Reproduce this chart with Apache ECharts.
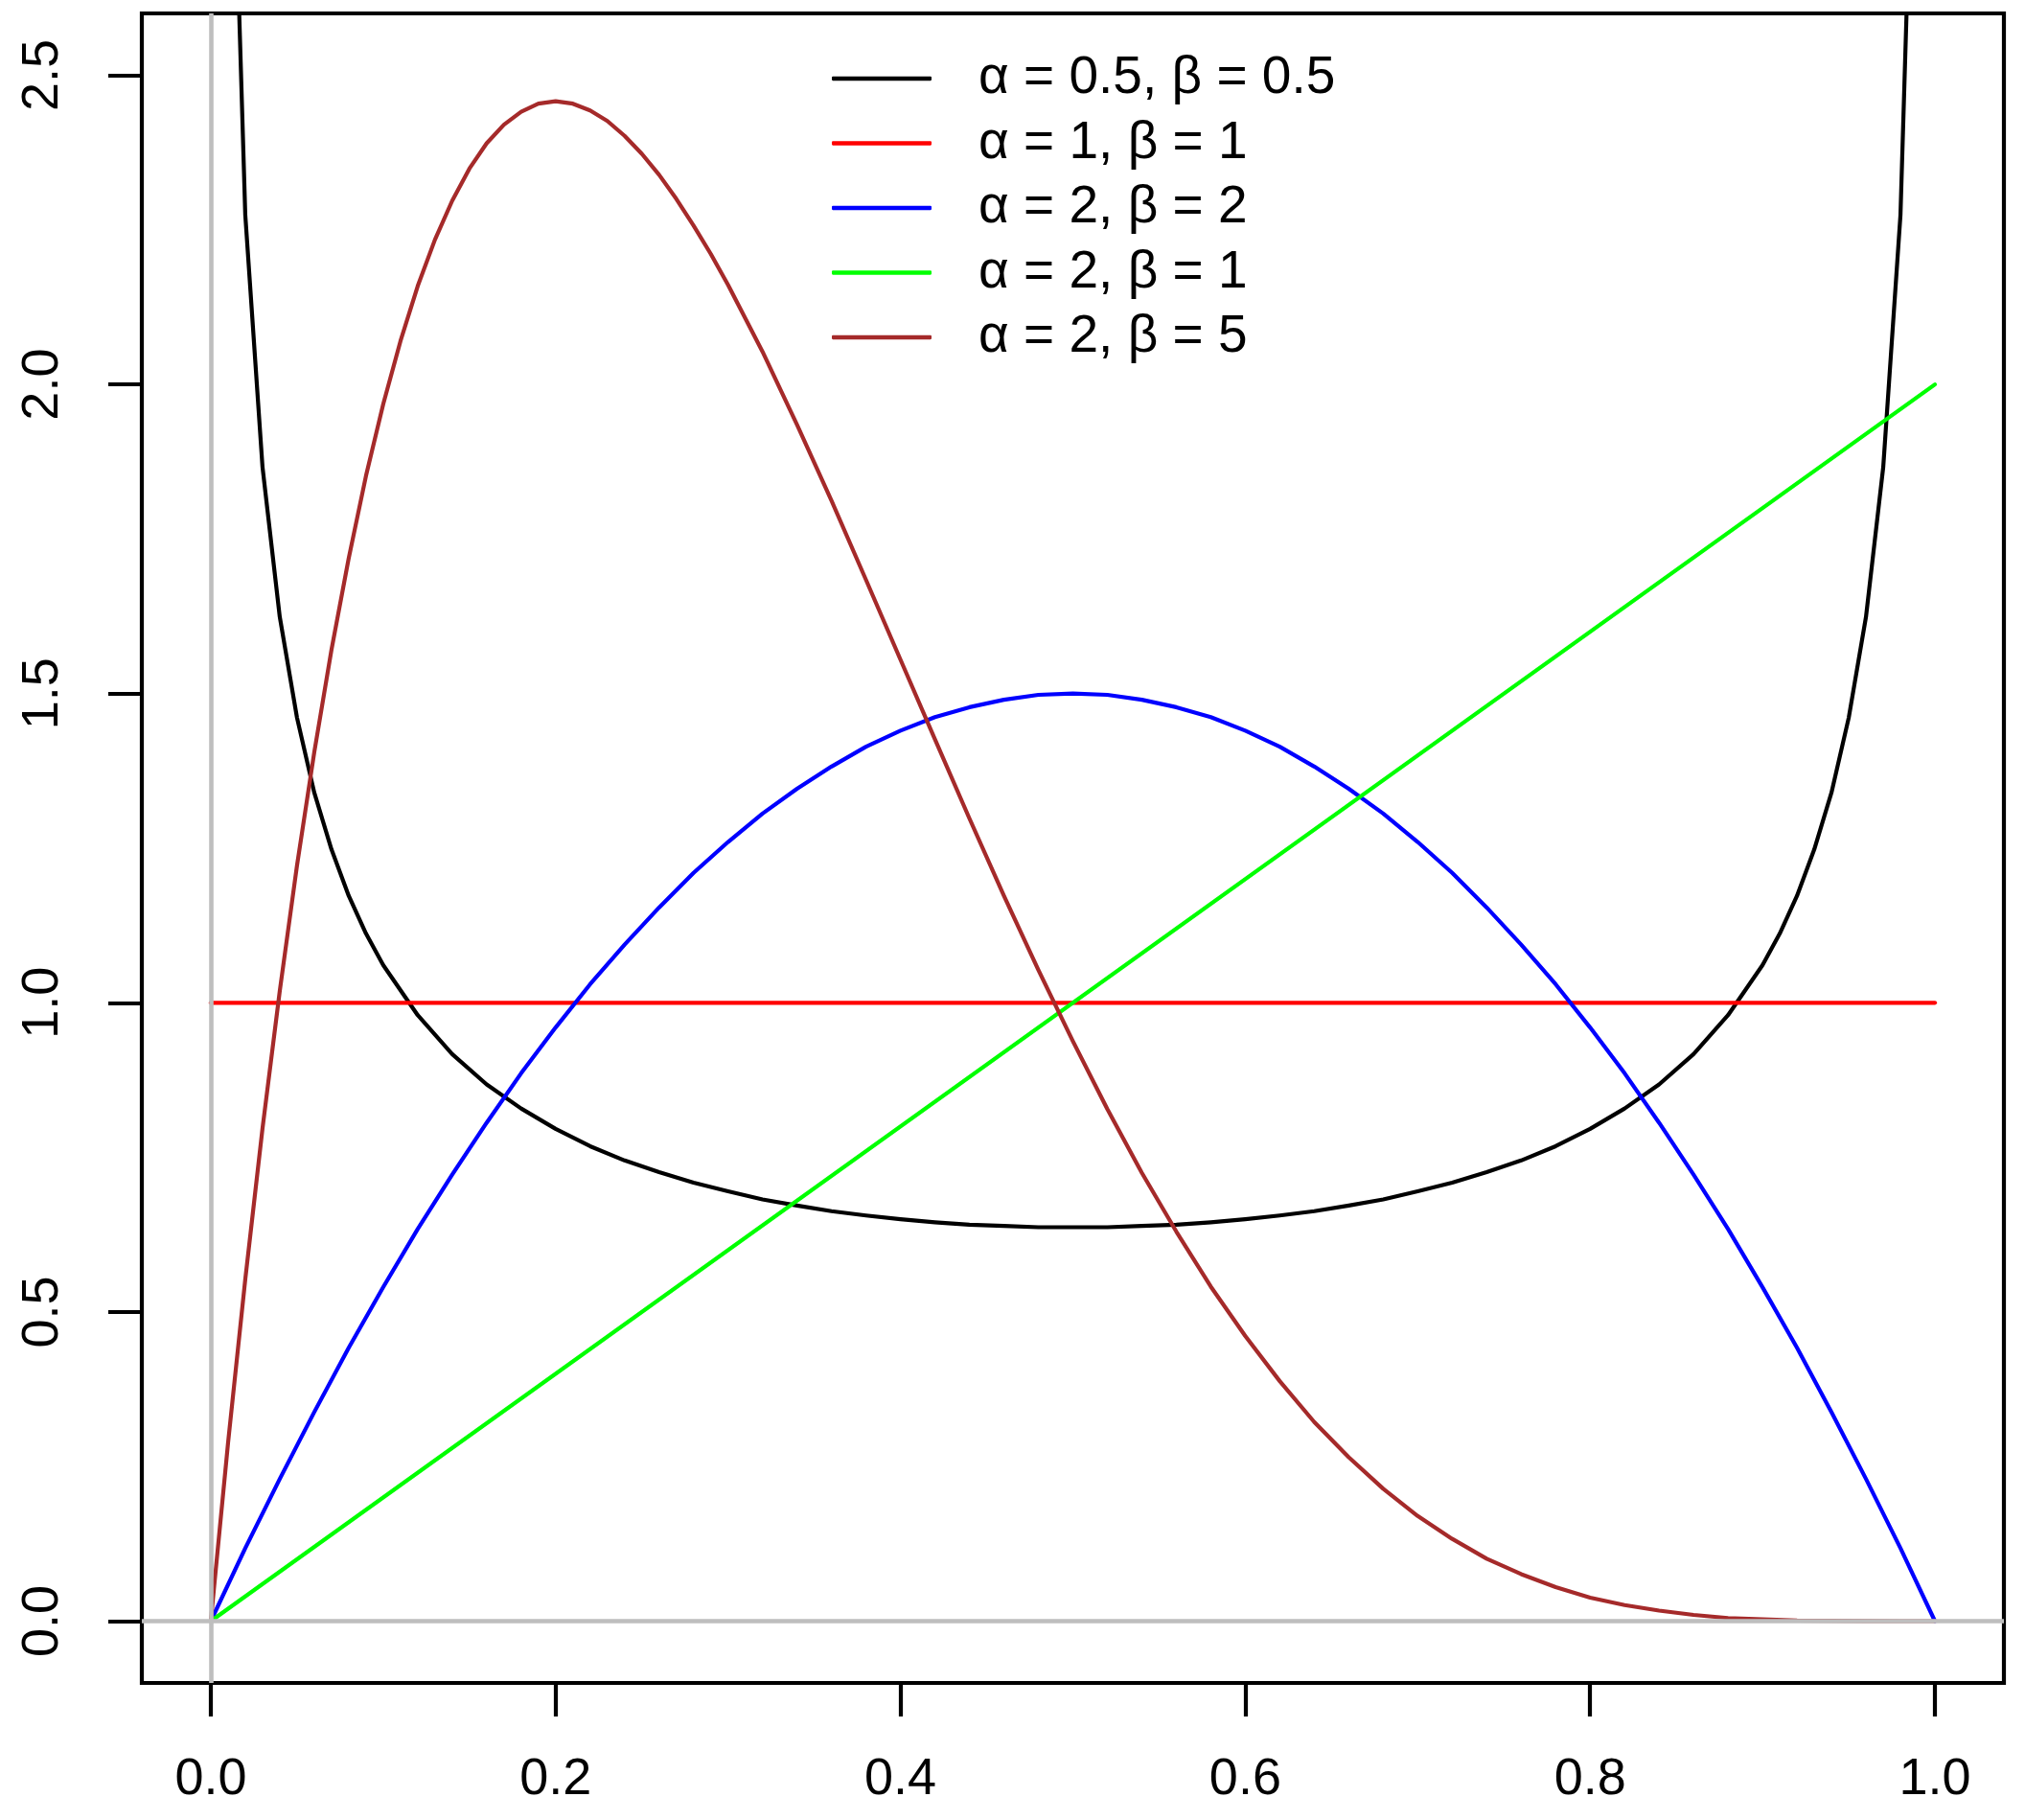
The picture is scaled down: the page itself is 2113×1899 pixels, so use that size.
<!DOCTYPE html>
<html>
<head>
<meta charset="utf-8">
<script src="https://cdn.jsdelivr.net/npm/echarts@6/dist/echarts.min.js"></script>
<style>
html,body{margin:0;padding:0;background:#fff;}
#chart{width:2113px;height:1899px;}
</style>
</head>
<body>
<div id="chart"></div>
<script>
// Tick labels
const xTicks = [0, 0.2, 0.4, 0.6, 0.8, 1.0];
const yTicks = [0, 0.5, 1.0, 1.5, 2.0, 2.5];

// Series names
const names = ['α = 0.5, β = 0.5', 'α = 1, β = 1', 'α = 2, β = 2', 'α = 2, β = 1', 'α = 2, β = 5'];
const colors = ['#000000', '#FF0000', '#0000FF', '#00FF00', '#A52A2A'];

// α = 0.5, β = 0.5
const blackX = [0.01,0.02,0.03,0.04,0.05,0.06,0.07,0.08,0.09,0.10,0.12,0.14,0.16,0.18,0.20,0.22,0.24,0.26,0.28,0.30,0.32,0.34,0.36,0.38,0.40,0.42,0.44,0.46,0.48,0.50,
  0.52,0.54,0.56,0.58,0.60,0.62,0.64,0.66,0.68,0.70,0.72,0.74,0.76,0.78,0.80,0.82,0.84,0.86,0.88,0.90,0.91,0.92,0.93,0.94,0.95,0.96,0.97,0.98,0.99];
const blackY = [3.199,2.274,1.866,1.624,1.461,1.340,1.248,1.173,1.112,1.061,0.980,0.917,0.868,0.829,0.796,0.768,0.745,0.726,0.709,0.695,0.682,0.672,0.663,0.656,0.650,0.645,0.641,0.639,0.637,0.637,
  0.637,0.639,0.641,0.645,0.650,0.656,0.663,0.672,0.682,0.695,0.709,0.726,0.745,0.768,0.796,0.829,0.868,0.917,0.980,1.061,1.112,1.173,1.248,1.340,1.461,1.624,1.866,2.274,3.199];

// α = 1, β = 1
const redX = [0, 1];
const redY = [1, 1];

// α = 2, β = 2
const blueX = [0,0.02,0.04,0.06,0.08,0.10,0.12,0.14,0.16,0.18,0.20,0.22,0.24,0.26,0.28,0.30,0.32,0.34,0.36,0.38,0.40,0.42,0.44,0.46,0.48,0.50,
  0.52,0.54,0.56,0.58,0.60,0.62,0.64,0.66,0.68,0.70,0.72,0.74,0.76,0.78,0.80,0.82,0.84,0.86,0.88,0.90,0.92,0.94,0.96,0.98,1.00];
const blueY = [0,0.118,0.230,0.338,0.442,0.540,0.634,0.722,0.806,0.886,0.960,1.030,1.094,1.154,1.210,1.260,1.306,1.346,1.382,1.414,1.440,1.462,1.478,1.490,1.498,1.500,
  1.498,1.490,1.478,1.462,1.440,1.414,1.382,1.346,1.306,1.260,1.210,1.154,1.094,1.030,0.960,0.886,0.806,0.722,0.634,0.540,0.442,0.338,0.230,0.118,0];

// α = 2, β = 1
const greenX = [0, 1];
const greenY = [0, 2];

// α = 2, β = 5
const brownX = [0,0.01,0.02,0.03,0.04,0.05,0.06,0.07,0.08,0.09,0.10,0.11,0.12,0.13,0.14,0.15,0.16,0.17,0.18,0.19,0.20,0.21,0.22,0.23,0.24,0.25,0.26,0.27,0.28,0.29,0.30,
  0.32,0.34,0.36,0.38,0.40,0.42,0.44,0.46,0.48,0.50,0.52,0.54,0.56,0.58,0.60,0.62,0.64,0.66,0.68,0.70,0.72,0.74,0.76,0.78,0.80,0.82,0.84,0.86,0.88,0.90,0.92,0.94,0.96,0.98,1.00];
const brownY = [0,0.288,0.553,0.797,1.019,1.222,1.405,1.571,1.719,1.852,1.968,2.070,2.159,2.234,2.297,2.349,2.390,2.420,2.441,2.454,2.458,2.454,2.443,2.426,2.402,2.373,2.339,2.300,2.257,2.211,2.161,
  2.053,1.935,1.812,1.684,1.555,1.426,1.298,1.173,1.053,0.938,0.828,0.725,0.630,0.541,0.461,0.388,0.322,0.265,0.214,0.170,0.133,0.101,0.076,0.055,0.038,0.026,0.017,0.010,0.005,0.003,0.001,0.0004,0.0001,0,0];

const xsList = [blackX, redX, blueX, greenX, brownX];
const ysList = [blackY, redY, blueY, greenY, brownY];

const FONT = '"Liberation Sans", Arial, Helvetica, sans-serif';
const LW = 4.2;

const series = names.map((n, i) => ({
  name: n,
  type: 'line',
  data: xsList[i].map((x, j) => [x, ysList[i][j]]),
  showSymbol: false,
  symbol: 'none',
  clip: true,
  itemStyle: { color: colors[i] },
  lineStyle: { color: colors[i], width: LW, cap: 'round', join: 'round' },
  z: 2
}));

series[1].markLine = {
  silent: true,
  symbol: ['none', 'none'],
  label: { show: false },
  animation: false,
  lineStyle: { color: '#BEBEBE', width: 4.6, type: 'solid' },
  data: [{ xAxis: 0 }, { yAxis: 0 }]
};

const chart = echarts.init(document.getElementById('chart'), null, { renderer: 'canvas' });
chart.setOption({
  animation: false,
  backgroundColor: '#ffffff',
  grid: {
    left: 148, right: 22, top: 14, bottom: 143,
    show: true, borderColor: '#000', borderWidth: 4.2, backgroundColor: 'transparent'
  },
  legend: {
    orient: 'vertical',
    left: 863,
    top: 47,
    icon: 'roundRect',
    itemWidth: 104,
    itemHeight: 4.4,
    itemGap: 7.5,
    data: names,
    itemStyle: { borderWidth: 0 },
    textStyle: { fontSize: 55, fontFamily: FONT, color: '#000', lineHeight: 60, padding: [0, 0, 0, 44] },
    selectedMode: false
  },
  xAxis: {
    type: 'value',
    min: -0.04, max: 1.04,
    axisLine: { show: false, onZero: false },
    splitLine: { show: false },
    axisTick: { show: true, customValues: xTicks, length: 35, lineStyle: { color: '#000', width: 4.2 } },
    axisLabel: { customValues: xTicks, margin: 74, fontSize: 54, fontFamily: FONT, color: '#000',
      formatter: v => v.toFixed(1) }
  },
  yAxis: {
    type: 'value',
    min: -0.1, max: 2.6,
    axisLine: { show: false, onZero: false },
    splitLine: { show: false },
    axisTick: { show: true, customValues: yTicks, length: 35, lineStyle: { color: '#000', width: 4.2 } },
    axisLabel: { customValues: yTicks, margin: 76, rotate: 90, fontSize: 54, fontFamily: FONT, color: '#000',
      formatter: v => v.toFixed(1) }
  },
  series: series
});
</script>
</body>
</html>
